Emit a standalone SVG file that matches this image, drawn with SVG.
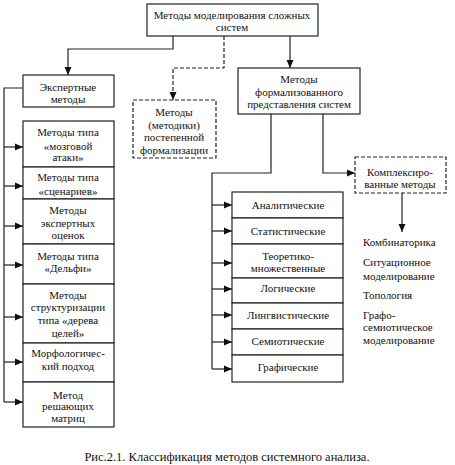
<svg xmlns="http://www.w3.org/2000/svg" width="455" height="465" viewBox="0 0 455 465">
<style>
text{font-family:'Liberation Serif','DejaVu Serif',serif;font-size:11px;fill:#111;text-anchor:middle}
.l{text-anchor:start}
.b{fill:#fff;stroke:#222;stroke-width:1.2}
.d{fill:#fff;stroke:#222;stroke-width:1.2;stroke-dasharray:4,2}
.c{fill:none;stroke:#222;stroke-width:1.2}
.cd{fill:none;stroke:#222;stroke-width:1.2;stroke-dasharray:4,2}
.cap{font-size:12.5px}
</style>
<defs>
<marker id="a" markerWidth="8" markerHeight="8" refX="8" refY="4" orient="auto" markerUnits="userSpaceOnUse">
<path d="M0,0.5 L8,4 L0,7.5 Z" fill="#111"/>
</marker>
</defs>
<rect width="455" height="465" fill="#fff"/>
<g id="connectors">
<path class="c" d="M173,36 V49 H68 V75" marker-end="url(#a)"/>
<path class="cd" d="M224,36 V68 H173 V100" marker-end="url(#a)"/>
<path class="c" d="M290,36 V68" marker-end="url(#a)"/>
<path class="c" d="M23,88 H4 V402"/>
<path class="c" d="M4,147 H23" marker-end="url(#a)"/>
<path class="c" d="M4,186 H23" marker-end="url(#a)"/>
<path class="c" d="M4,226 H23" marker-end="url(#a)"/>
<path class="c" d="M4,265 H23" marker-end="url(#a)"/>
<path class="c" d="M4,317 H23" marker-end="url(#a)"/>
<path class="c" d="M4,362 H23" marker-end="url(#a)"/>
<path class="c" d="M4,402 H23" marker-end="url(#a)"/>
<path class="c" d="M271,114 V173 H212 V369"/>
<path class="c" d="M323,114 V173 H355" marker-end="url(#a)"/>
<path class="c" d="M402,193 V232" marker-end="url(#a)"/>
<path class="c" d="M212,205 H232" marker-end="url(#a)"/>
<path class="c" d="M212,231 H232" marker-end="url(#a)"/>
<path class="c" d="M212,263 H232" marker-end="url(#a)"/>
<path class="c" d="M212,289 H232" marker-end="url(#a)"/>
<path class="c" d="M212,315 H232" marker-end="url(#a)"/>
<path class="c" d="M212,342 H232" marker-end="url(#a)"/>
<path class="c" d="M212,369 H232" marker-end="url(#a)"/>
</g>
<g font-family="'Liberation Serif', 'DejaVu Serif', serif">
<g id="top"><rect class="b" x="147" y="4" width="171" height="32"/><text x="232" y="19">Методы моделирования сложных</text><text x="232" y="31">систем</text></g>
<g id="expert"><rect class="b" x="23" y="75" width="91" height="32"/><text x="68" y="91">Экспертные</text><text x="68" y="103">методы</text></g>
<g id="gradual"><rect class="d" x="133" y="100" width="83" height="58"/><text x="174" y="116">Методы</text><text x="174" y="129">(методики)</text><text x="174" y="141">постепенной</text><text x="174" y="154">формализации</text></g>
<g id="formal"><rect class="b" x="238" y="68" width="122" height="46"/><text x="299" y="83">Методы</text><text x="299" y="96">формализованного</text><text x="299" y="108">представления систем</text></g>
<g id="complex"><rect class="d" x="355" y="157" width="91" height="36"/><text x="400" y="176">Комплексиро-</text><text x="400" y="188">ванные методы</text></g>
<g id="e1"><rect class="b" x="23" y="121" width="91" height="46"/><text x="68" y="136">Методы типа</text><text x="68" y="150">«мозговой</text><text x="68" y="161">атаки»</text></g>
<g id="e2"><rect class="b" x="23" y="167" width="91" height="32"/><text x="68" y="181">Методы типа</text><text x="68" y="195">«сценариев»</text></g>
<g id="e3"><rect class="b" x="23" y="199" width="91" height="45"/><text x="68" y="214">Методы</text><text x="68" y="227">экспертных</text><text x="68" y="239">оценок</text></g>
<g id="e4"><rect class="b" x="23" y="244" width="91" height="40"/><text x="68" y="260">Методы типа</text><text x="68" y="272">«Дельфи»</text></g>
<g id="e5"><rect class="b" x="23" y="284" width="91" height="59"/><text x="68" y="299">Методы</text><text x="68" y="311">структуризации</text><text x="68" y="324">типа «дерева</text><text x="68" y="337">целей»</text></g>
<g id="e6"><rect class="b" x="23" y="343" width="91" height="39"/><text x="68" y="357">Морфологичес-</text><text x="68" y="370">кий подход</text></g>
<g id="e7"><rect class="b" x="23" y="382" width="91" height="45"/><text x="68" y="399">Метод</text><text x="68" y="410">решающих</text><text x="68" y="422">матриц</text></g>
<g id="f1"><rect class="b" x="232" y="192" width="111" height="26"/><text x="288" y="209">Аналитические</text></g>
<g id="f2"><rect class="b" x="232" y="218" width="111" height="26"/><text x="288" y="235">Статистические</text></g>
<g id="f3"><rect class="b" x="232" y="244" width="111" height="34"/><text x="288" y="260">Теоретико-</text><text x="288" y="272">множественные</text></g>
<g id="f4"><rect class="b" x="232" y="278" width="111" height="25"/><text x="288" y="292">Логические</text></g>
<g id="f5"><rect class="b" x="232" y="303" width="111" height="26"/><text x="288" y="319">Лингвистические</text></g>
<g id="f6"><rect class="b" x="232" y="329" width="111" height="26"/><text x="288" y="345">Семиотические</text></g>
<g id="f7"><rect class="b" x="232" y="355" width="111" height="27"/><text x="288" y="371">Графические</text></g>
<g id="complex-list">
<text class="l" x="363" y="246">Комбинаторика</text>
<text class="l" x="363" y="266">Ситуационное</text>
<text class="l" x="363" y="280">моделирование</text>
<text class="l" x="363" y="299">Топология</text>
<text class="l" x="363" y="319">Графо-</text>
<text class="l" x="363" y="331">семиотическое</text>
<text class="l" x="363" y="344">моделирование</text>
</g>
<text class="cap" x="227" y="461">Рис.2.1. Классификация методов системного анализа.</text>
</g>
</svg>
